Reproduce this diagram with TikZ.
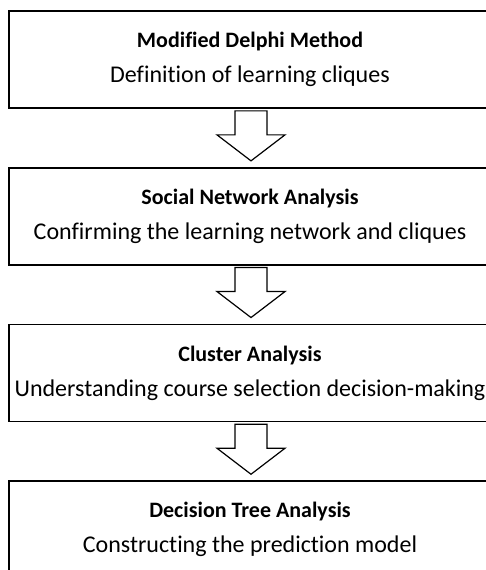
\documentclass[tikz,border=0pt]{standalone}
\usepackage{fontspec}
\setmainfont{Carlito}[Ligatures=NoCommon]
\usetikzlibrary{positioning, calc}

\begin{document}
\begin{tikzpicture}[x=1pt, y=1pt,
every node/.style={font=\fontsize{24}{28}\selectfont, align=center},
phase/.style={rectangle, draw=black, line width=1.7pt, minimum width=482pt, minimum height=97pt, inner sep=0pt},
hollow/.style={draw=black, fill=white, line width=1.2pt, line join=miter}
]
\useasboundingbox (0,0) rectangle (486,-570);
\clip (0,0) rectangle (486,-570);
% Boxes
\node[phase] (m1) at (250,-59.5) {{\bfseries\fontsize{22}{26}\selectfont Modified Delphi Method}\\[7pt]
Definition of learning cliques};
\node[phase, below=58pt of m1] (m2) {{\bfseries\fontsize{22}{26}\selectfont Social Network Analysis}\\[7pt]
Confirming the learning network and cliques};
\node[phase, below=58pt of m2] (m3) {{\bfseries\fontsize{22}{26}\selectfont Cluster Analysis}\\[7pt]
Understanding course selection decision-making};
\node[phase, below=58pt of m3] (m4) {{\bfseries\fontsize{22}{26}\selectfont Decision Tree Analysis}\\[7pt]
Constructing the prediction model};
% Hollow block arrows
\foreach \a in {m1, m2, m3}
\draw[hollow] ($(\a.south)+(-15,-2)$) -- ++(0,-24) -- ++(-18,0) -- ++(34,-26) -- ++(34,26) -- ++(-18,0) -- ++(0,24) -- cycle;
\end{tikzpicture}
\end{document}
